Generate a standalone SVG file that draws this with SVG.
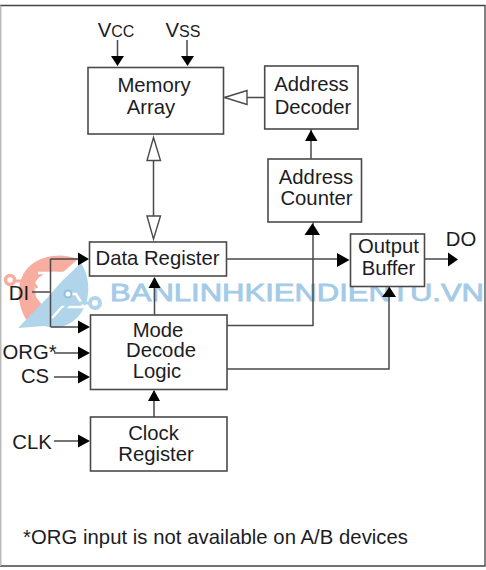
<svg xmlns="http://www.w3.org/2000/svg" width="486" height="570" viewBox="0 0 486 570">
<style>
text{font-family:"Liberation Sans",Arial,sans-serif;font-size:20.300px;fill:#1c1c24;text-anchor:middle}
.b{fill:#fff;stroke:#4a4a4a;stroke-width:1.6}
.l{fill:none;stroke:#4a4a4a;stroke-width:1.5}
.a{fill:#000;stroke:none}
.o{fill:#fff;stroke:#4a4a4a;stroke-width:1.4}
.wm{font-size:24px;fill:#a3cbe8;stroke:#a3cbe8;stroke-width:.8px;text-anchor:start}
.c{fill:#f7ada0}
.s{fill:#b0d5ea}
</style>
<rect width="486" height="570" fill="#fff"/>
<path d="M.5 5.500H485V566H.5Z" fill="none" stroke="#444" stroke-width="1.300"/>
<path d="M.5 5.500V566" stroke="#bbb" stroke-width="1.200"/>
<g id="watermark">
<path class="c" d="M27 321C15 302 15 274 35 262C49 254 64 254 78 259L62 273C50 269 38 275 34 285L36 297L46 310Z"/>
<path d="M38 273H66L56 283H44" fill="none" stroke="#fff" stroke-width="2.500"/>
<circle cx="10" cy="280" r="4.500" fill="#fff" stroke="#f7ada0" stroke-width="3.500"/>
<path d="M14 281H32L37 288" fill="none" stroke="#f7ada0" stroke-width="3"/>
<path class="s" d="M81 263C92 280 92 308 72 322C62 329 52 328 44 326L18 328L48 297L62 281Z"/>
<path d="M68 294H76L84 307H62L52 318" fill="none" stroke="#fff" stroke-width="2.500"/>
<circle cx="68" cy="294" r="3.500" fill="#fff" stroke="#8fc1e0" stroke-width="2"/>
<circle cx="95" cy="303" r="5" fill="#fff" stroke="#b0d5ea" stroke-width="4"/>
<path d="M90 303H70L60 313" fill="none" stroke="#b0d5ea" stroke-width="3"/>
<text class="wm" x="110" y="301" textLength="374" lengthAdjust="spacingAndGlyphs">BANLINHKIENDIENTU.VN</text>
</g>
<g id="connectors">
<path class="l" d="M117.500 40V56M187 40V56M153.500 160V216M225 97.500H264.500M311 129V159M227 259H337M424.500 259H448M313 222V325.500H227M389 286V369H227M154.500 278V315M154 417V391M54 353H78M54 377H78M54 441H78M32 292H50.500M50.500 259V327M50.500 259H78M50.500 327H78"/>
<path class="a" d="M111 56H124L117.500 66ZM181 56H194L187.500 66ZM78 252.500L89 259L78 265.500ZM78 320.500L90 327L78 333.500ZM78 346.500L90 353L78 359.500ZM78 370.500L90 377L78 383.500ZM78 434.500L90 441L78 447.500ZM337 253L349.500 260L337 267ZM448 252.500L458 259.500L448 266.500ZM304.500 235L312 224H313L320 235ZM305 141L311 130L317.500 141ZM148.500 288L154.500 277L160.500 288ZM148 401L154 390L160 401ZM382 297L389.500 287L396 297Z"/>
<path class="o" d="M224.500 97.500L247 90.500V104.500ZM153.500 137.500L160.500 160.500H147ZM153.500 239L147 216H160.500Z"/>
</g>
<g id="memory-array"><rect class="b" x="88" y="67.500" width="135.500" height="66.500"/><text x="154" y="92">Memory</text><text x="151" y="114">Array</text></g>
<g id="address-decoder"><rect class="b" x="264.700" y="66" width="93.300" height="63"/><text x="311.500" y="90.500">Address</text><text x="313" y="114">Decoder</text></g>
<g id="address-counter"><rect class="b" x="268" y="159" width="93.500" height="63"/><text x="316" y="184">Address</text><text x="316.500" y="205">Counter</text></g>
<g id="data-register"><rect class="b" x="89.500" y="242" width="137" height="34"/><text x="157.500" y="265">Data Register</text></g>
<g id="mode-decode-logic"><rect class="b" x="90.500" y="315" width="136.500" height="74.500"/><text x="158" y="337">Mode</text><text x="161" y="357">Decode</text><text x="157" y="378">Logic</text></g>
<g id="clock-register"><rect class="b" x="90.500" y="417" width="136.500" height="54"/><text x="153.500" y="440">Clock</text><text x="156" y="461">Register</text></g>
<g id="output-buffer"><rect class="b" x="350.500" y="234" width="74" height="52.500"/><text x="388.500" y="253">Output</text><text x="388.500" y="275">Buffer</text></g>
<g id="labels">
<text x="116" y="37">V<tspan font-size="16">CC</tspan></text>
<text x="183" y="37">V<tspan font-size="16">SS</tspan></text>
<text x="461" y="246">DO</text>
<text x="19" y="300">DI</text>
<text x="29.500" y="359">ORG*</text>
<text x="35" y="383">CS</text>
<text x="32" y="449">CLK</text>
<text x="215.500" y="544" textLength="385">*ORG input is not available on A/B devices</text>
</g>
</svg>
